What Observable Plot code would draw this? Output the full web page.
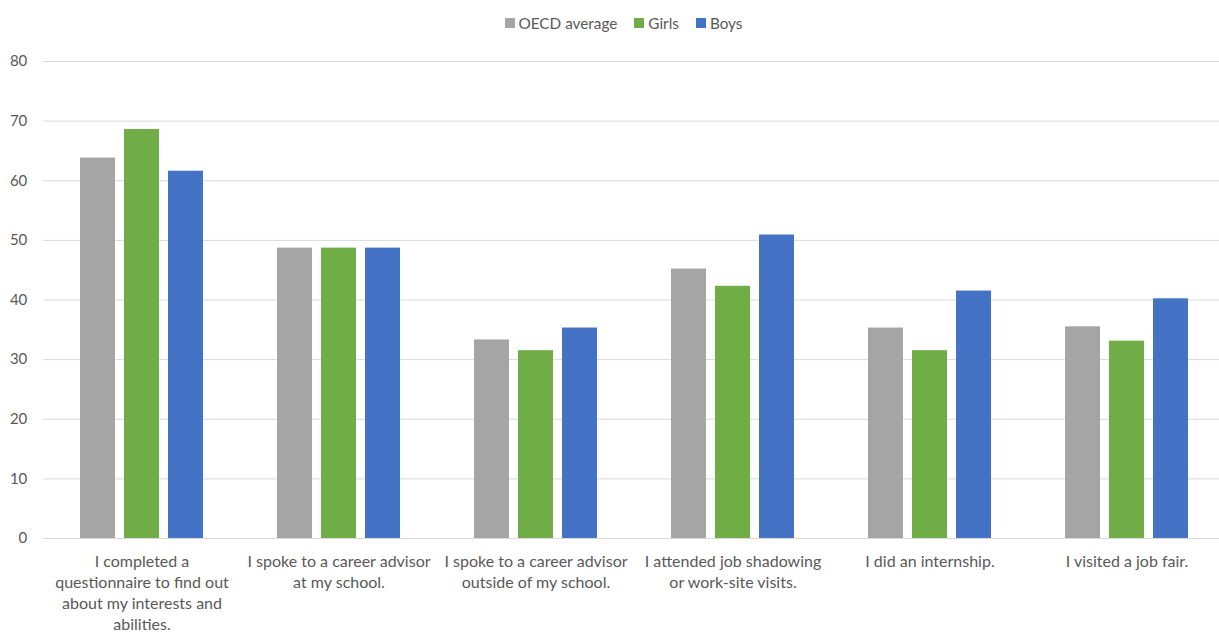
<!DOCTYPE html>
<html>
<head>
<meta charset="utf-8">
<script src="https://cdn.jsdelivr.net/npm/d3@7"></script>
<script src="https://cdn.jsdelivr.net/npm/@observablehq/plot@0.6"></script>
<style>
  html, body { margin: 0; padding: 0; background: #fff; }
  body { width: 1219px; height: 632px; overflow: hidden; font-family: "Lato", "Liberation Sans", sans-serif; color: #595959; }
  #legend { height: 40px; display: flex; justify-content: center; align-items: center; gap: 17px; font-size: 15.3px; padding-left: 28px; box-sizing: border-box; padding-top: 6px; }
  #legend .item { display: flex; align-items: center; gap: 4px; }
  #legend .sw { width: 10px; height: 10px; display: inline-block; }
</style>
</head>
<body>
<div id="legend"></div>
<div id="chart"></div>
<script>
const categories = [
  "I completed a\nquestionnaire to find out\nabout my interests and\nabilities.",
  "I spoke to a career advisor\nat my school.",
  "I spoke to a career advisor\noutside of my school.",
  "I attended job shadowing\nor work-site visits.",
  "I did an internship.",
  "I visited a job fair."
];
const series = ["OECD average", "Girls", "Boys"];
const colors = ["#A5A5A5", "#70AD47", "#4472C4"];
const oecd  = [63.8, 48.7, 33.3, 45.2, 35.3, 35.5];
const girls = [68.6, 48.7, 31.5, 42.3, 31.5, 33.1];
const boys  = [61.6, 48.7, 35.3, 50.9, 41.5, 40.2];
const yTicks = [0, 10, 20, 30, 40, 50, 60, 70, 80];

const valuesBySeries = [oecd, girls, boys];
const data = [];
categories.forEach((c, i) => {
  series.forEach((s, j) => data.push({category: c, series: s, value: valuesBySeries[j][i]}));
});

// legend
const legend = document.getElementById("legend");
series.forEach((s, j) => {
  const it = document.createElement("span");
  it.className = "item";
  const sw = document.createElement("span");
  sw.className = "sw";
  sw.style.background = colors[j];
  it.appendChild(sw);
  it.appendChild(document.createTextNode(s));
  legend.appendChild(it);
});

const W = 1219, ML = 43, MR = -6;
const fxPad = 0.327;
const halfGap = fxPad * ((W - ML - MR) / categories.length) / 2;

const chart = Plot.plot({
  width: W,
  height: 592,
  marginTop: 21,
  marginBottom: 94,
  marginLeft: ML,
  marginRight: MR,
  style: {fontFamily: "Lato, 'Liberation Sans', sans-serif", fontSize: "15px", color: "#595959", background: "#fff", overflow: "hidden"},
  fx: {domain: categories, paddingInner: fxPad, paddingOuter: fxPad / 2, label: null},
  x: {domain: series, paddingInner: 0.2, paddingOuter: 0.1, axis: null},
  y: {domain: [0, 80], label: null},
  color: {domain: series, range: colors},
  marks: [
    Plot.ruleY(yTicks, {y: d => d, stroke: "#D9D9D9", strokeWidth: 1, insetLeft: -halfGap, insetRight: -halfGap}),
    Plot.axisY({ticks: yTicks, tickSize: 0, tickPadding: 16 + halfGap, fill: "#595959", fontSize: 15, label: null}),
    Plot.barY(data, {fx: "category", x: "series", y: "value", fill: "series"}),
    Plot.axisFx({anchor: "bottom", tickSize: 0, tickPadding: 14, lineHeight: 1.3125, label: null, fill: "#595959", fontSize: 16})
  ]
});
document.getElementById("chart").appendChild(chart);
</script>
</body>
</html>
